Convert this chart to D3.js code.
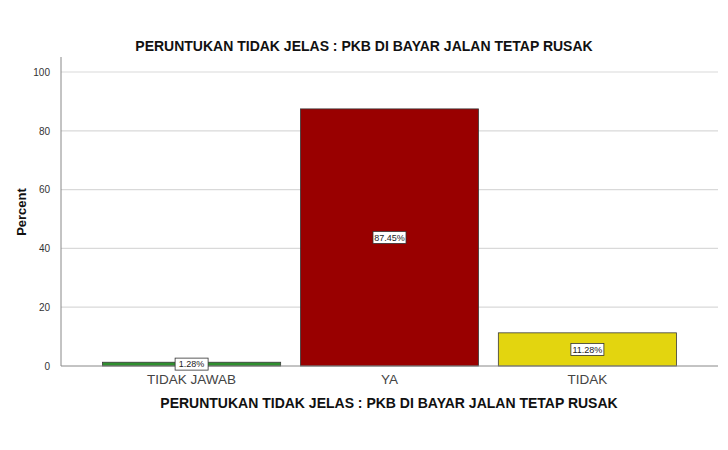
<!DOCTYPE html>
<html>
<head>
<meta charset="utf-8">
<script src="https://cdn.jsdelivr.net/npm/d3@7"></script>
<style>
body { margin: 0; background: #fff; }
text { font-family: "Liberation Sans", Arial, sans-serif; }
</style>
</head>
<body>
<svg id="chart" width="728" height="450"></svg>
<script>
var categories = ["TIDAK JAWAB", "YA", "TIDAK"];
var percents = [1.28, 87.45, 11.28];
var barColors = ["#2f8f2f", "#990000", "#e3d50f"];
var yTicks = [0, 20, 40, 60, 80, 100];
var chartTitle = "PERUNTUKAN TIDAK JELAS : PKB DI BAYAR JALAN TETAP RUSAK";

var svg = d3.select("#chart"),
	plotLeft = 61, plotRight = 718,
	plotTop = 72, plotBottom = 366;

var x = d3.scaleBand()
	.domain(categories)
	.range([plotLeft, plotRight])
	.paddingInner(0.1)
	.paddingOuter(0.21);

var y = d3.scaleLinear()
	.domain([0, 100])
	.range([plotBottom, plotTop]);

// title
svg.append("text")
	.attr("x", 364).attr("y", 51)
	.attr("text-anchor", "middle")
	.attr("font-size", 14).attr("font-weight", "bold")
	.attr("fill", "#111")
	.text(chartTitle);

// gridlines
svg.append("g")
	.selectAll("line")
	.data(yTicks.filter(function(d) { return d > 0; }))
	.enter().append("line")
		.attr("x1", plotLeft).attr("x2", plotRight)
		.attr("y1", function(d) { return y(d); })
		.attr("y2", function(d) { return y(d); })
		.attr("stroke", "#d9d9d9").attr("stroke-width", 1.2);

// y axis
var yAxis = svg.append("g")
	.attr("transform", "translate(" + plotLeft + ",0)")
	.call(d3.axisLeft(y).tickValues(yTicks).tickSize(0).tickPadding(11));
yAxis.select(".domain").remove();
yAxis.selectAll("text").attr("font-size", 10).attr("fill", "#333")
	.attr("font-family", "Liberation Sans, Arial, sans-serif");

svg.append("line")
	.attr("x1", plotLeft).attr("x2", plotLeft)
	.attr("y1", 57).attr("y2", plotBottom)
	.attr("stroke", "#888").attr("stroke-width", 1);

// bars
svg.append("g")
	.selectAll("rect")
	.data(percents)
	.enter().append("rect")
		.attr("x", function(d, i) { return x(categories[i]); })
		.attr("y", function(d) { return y(d); })
		.attr("width", x.bandwidth())
		.attr("height", function(d) { return plotBottom - y(d); })
		.attr("fill", function(d, i) { return barColors[i]; })
		.attr("stroke", "#3a3a3a").attr("stroke-width", 0.8);

// x axis line
svg.append("line")
	.attr("x1", plotLeft).attr("x2", plotRight)
	.attr("y1", plotBottom).attr("y2", plotBottom)
	.attr("stroke", "#888").attr("stroke-width", 1);

// value labels
var lab = svg.append("g")
	.selectAll("g")
	.data(percents)
	.enter().append("g")
		.attr("transform", function(d, i) {
			return "translate(" + (x(categories[i]) + x.bandwidth() / 2) + "," + ((y(d) + plotBottom) / 2) + ")";
		});
lab.append("rect")
	.attr("x", -16.5).attr("y", -6)
	.attr("width", 33).attr("height", 12)
	.attr("fill", "#fff").attr("stroke", "#333").attr("stroke-width", 0.8);
lab.append("text")
	.attr("text-anchor", "middle").attr("dy", "0.35em")
	.attr("font-size", 9).attr("fill", "#222")
	.text(function(d) { return d.toFixed(2) + "%"; });

// category labels
svg.append("g")
	.selectAll("text")
	.data(categories)
	.enter().append("text")
		.attr("x", function(d) { return x(d) + x.bandwidth() / 2; })
		.attr("y", 384)
		.attr("text-anchor", "middle")
		.attr("font-size", 13.5).attr("fill", "#444")
		.text(function(d) { return d; });

// axis titles
svg.append("text")
	.attr("x", 389).attr("y", 408)
	.attr("text-anchor", "middle")
	.attr("font-size", 14).attr("font-weight", "bold")
	.attr("fill", "#111")
	.text(chartTitle);

svg.append("text")
	.attr("transform", "translate(26,212) rotate(-90)")
	.attr("text-anchor", "middle")
	.attr("font-size", 13).attr("font-weight", "bold")
	.attr("fill", "#111")
	.text("Percent");
</script>
</body>
</html>
